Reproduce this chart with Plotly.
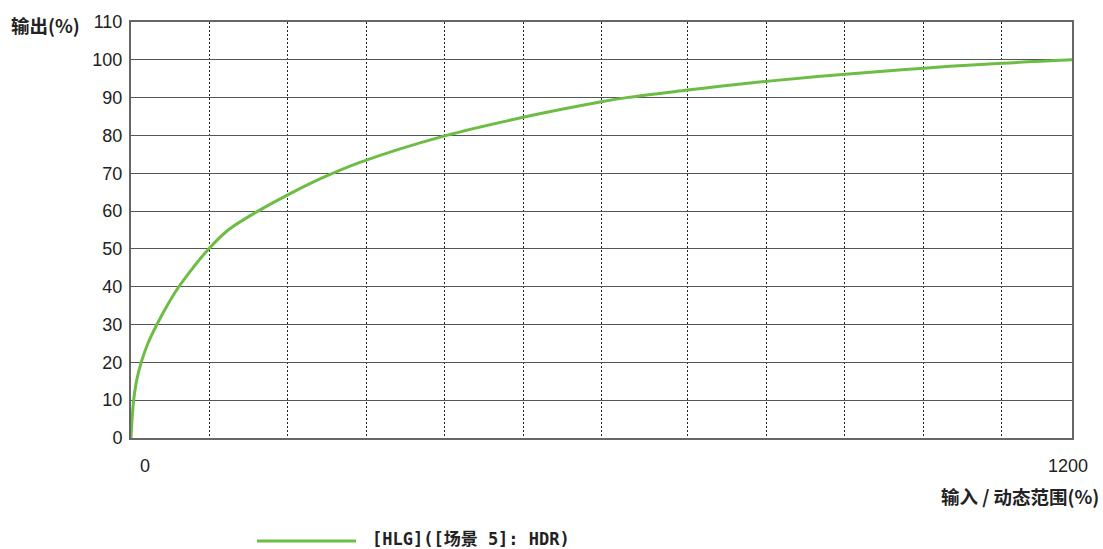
import plotly.graph_objects as go

# Curve values
input_pct = [0, 1.3, 3.4, 7.3, 13, 21.5, 33, 46, 61, 79, 99, 124, 162, 200, 243, 292, 400, 500, 600, 632, 710, 751, 810, 911, 1011, 1111, 1200]
output_pct = [0, 4.8, 10, 15.3, 20, 25, 30, 35, 40, 45, 50, 55, 60, 64.3, 68.7, 72.9, 79.9, 84.8, 88.9, 90, 92.0, 93.0, 94.3, 96.2, 97.8, 99.1, 100]

# Vertical grid positions (data units) and y ticks
x_grid = [100, 200, 300, 400, 500, 600, 710, 810, 910, 1010, 1110]
y_ticks = [0, 10, 20, 30, 40, 50, 60, 70, 80, 90, 100, 110]
x_tick_labels = ["0", "1200"]

series_name = "[HLG]([场景 5]: HDR)"
y_title = "输出(%)"
x_title = "输入 / 动态范围(%)"

GREEN = "#6dbd45"
TICK_FONT = dict(family="Liberation Sans, Arial, sans-serif", size=18, color="#222")
TITLE_FONT = dict(family="Noto Sans CJK SC, sans-serif", size=18.5, color="#222")

PW, PH = 941, 416  # plot area size in px

fig = go.Figure()
fig.add_trace(go.Scatter(
    x=input_pct, y=output_pct, mode="lines",
    line=dict(color=GREEN, width=3, shape="spline", smoothing=1.0),
    name=series_name, showlegend=False, hoverinfo="x+y",
))

fig.update_layout(
    width=1103, height=549,
    margin=dict(l=131, r=31, t=22, b=111),
    paper_bgcolor="white", plot_bgcolor="white",
    showlegend=False,
)

fig.update_xaxes(
    range=[0, 1200], tickvals=x_grid, ticktext=[""] * len(x_grid),
    showgrid=True, gridcolor="#222", gridwidth=1, griddash="2px,2px",
    showline=True, linecolor="#666", linewidth=2, mirror=True,
    ticks="", zeroline=False, fixedrange=True,
)
fig.update_yaxes(
    range=[0, 110], tickvals=y_ticks, ticktext=[str(v) for v in y_ticks],
    showgrid=True, gridcolor="#555", gridwidth=1.2,
    showline=True, linecolor="#666", linewidth=2, mirror=True,
    ticks="", ticklabelstandoff=3, tickfont=TICK_FONT, zeroline=False, fixedrange=True,
)

# x tick labels
fig.add_annotation(x=0, y=0, xref="x", yref="paper", text=x_tick_labels[0],
                   showarrow=False, xanchor="center", yanchor="middle",
                   xshift=14, yshift=-28, font=TICK_FONT)
fig.add_annotation(x=1200, y=0, xref="x", yref="paper", text=x_tick_labels[1],
                   showarrow=False, xanchor="center", yanchor="middle",
                   xshift=-4, yshift=-28, font=TICK_FONT)

# axis titles
fig.add_annotation(xref="x domain", yref="y domain", x=-122 / PW, y=1 - 3 / PH,
                   text="<b>" + y_title + "</b>", showarrow=False,
                   xanchor="left", yanchor="middle", font=TITLE_FONT)
fig.add_annotation(xref="x domain", yref="y domain", x=1 + 29 / PW, y=-58 / PH,
                   text="<b>" + x_title + "</b>", showarrow=False,
                   xanchor="right", yanchor="middle", font=TITLE_FONT)

# legend (manual: long sample line)
fig.add_shape(type="line", xref="x domain", yref="y domain",
              x0=(257 - 131) / PW, x1=(356 - 131) / PW,
              y0=-(541 - 438) / PH, y1=-(541 - 438) / PH,
              line=dict(color=GREEN, width=3))
fig.add_annotation(xref="x domain", yref="y domain",
                   x=(370 - 131) / PW, y=-(539 - 438) / PH,
                   text="<b>" + series_name + "</b>", showarrow=False,
                   xanchor="left", yanchor="middle",
                   font=dict(family="DejaVu Sans Mono, Noto Sans CJK SC, monospace", size=17, color="#222"))

fig.write_html("out.html", config={"displayModeBar": False},
               post_script="document.body.style.margin='0';document.body.style.overflow='hidden';")
